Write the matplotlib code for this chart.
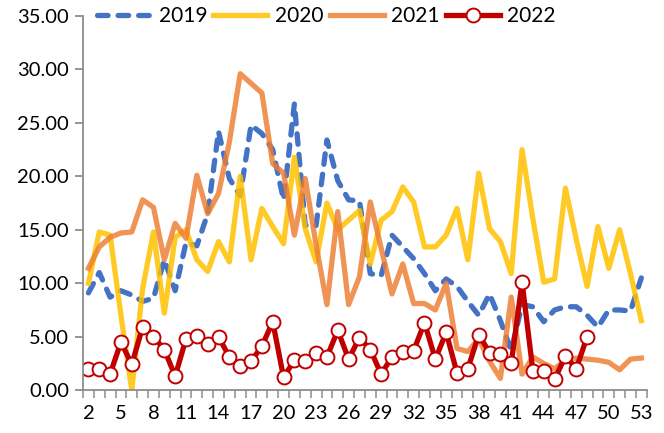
import numpy as np
import matplotlib
matplotlib.use('Agg')
import matplotlib.pyplot as plt
from matplotlib.ticker import MultipleLocator, FixedLocator, FormatStrFormatter

plt.rcParams['font.family'] = ['Lato', 'DejaVu Sans']

# weekly values, weeks 2..53
weeks = list(range(2, 54))
y2019 = [9.1, 11.0, 8.7, 9.3, 8.9, 8.3, 8.6, 12.2, 9.3, 13.8, 13.5, 16.5, 24.2,
         19.8, 18.2, 24.8, 24.0, 22.5, 17.8, 26.8, 15.4, 15.4, 23.4, 19.6, 17.8,
         17.7, 10.9, 10.7, 14.5, 13.4, 12.3, 10.9, 9.3, 10.4, 9.7, 8.3, 7.0, 9.0,
         6.5, 3.7, 8.0, 7.8, 6.4, 7.5, 7.8, 7.8, 7.0, 5.9, 7.5, 7.5, 7.4, 10.5]
y2020 = [10.0, 14.8, 14.5, 7.0, 0.0, 9.5, 14.8, 7.2, 14.3, 15.0, 12.2, 11.1, 13.9,
         12.0, 20.0, 12.2, 17.0, 15.3, 13.7, 21.8, 15.1, 12.0, 17.5, 15.0, 15.9,
         16.8, 11.8, 15.9, 16.7, 19.0, 17.6, 13.4, 13.4, 14.5, 17.0, 12.2, 20.3,
         15.1, 13.9, 10.9, 22.5, 16.0, 10.1, 10.4, 18.9, 14.1, 9.7, 15.3, 11.4,
         15.0, 10.9, 6.5]
y2021 = [11.4, 13.4, 14.3, 14.7, 14.8, 17.8, 17.1, 12.2, 15.6, 14.2, 20.1, 16.5,
         18.4, 23.2, 29.6, 28.7, 27.8, 21.2, 20.3, 14.5, 19.8, 13.6, 8.0, 16.7,
         8.0, 10.6, 17.6, 13.3, 9.0, 11.8, 8.1, 8.1, 7.5, 10.0, 3.9, 3.6, 4.8, 2.7,
         1.1, 8.7, 1.5, 3.1, 2.5, 2.0, 2.8, 3.0, 2.9, 2.8, 2.6, 1.9, 2.9, 3.0]
# 2022 only up to week 48
weeks_2022 = list(range(2, 49))
y2022 = [2.0, 2.0, 1.5, 4.5, 2.4, 5.9, 5.0, 3.8, 1.3, 4.8, 5.1, 4.3, 5.0, 3.1,
         2.3, 2.7, 4.1, 6.4, 1.2, 2.8, 2.7, 3.5, 3.1, 5.6, 2.9, 4.9, 3.8, 1.5,
         3.1, 3.6, 3.7, 6.3, 2.9, 5.4, 1.6, 2.0, 5.2, 3.5, 3.4, 2.5, 10.1, 1.8,
         1.8, 1.0, 3.2, 2.0, 5.0]
xlabels = list(range(2, 54, 3))

fig = plt.figure(figsize=(6.64, 4.33), dpi=100)
ax = fig.add_subplot(111)
fig.subplots_adjust(left=0.125, right=0.974, bottom=0.099, top=0.963)

lw = 3.8
ax.plot(weeks, y2019, color='#4472C4', lw=lw, linestyle=(0, (2.0, 1.9)),
        dash_capstyle='round', label='2019')
ax.plot(weeks, y2020, color='#FFC000', lw=lw, alpha=0.85, solid_joinstyle='round', label='2020')
ax.plot(weeks, y2021, color='#ED7D31', lw=lw, alpha=0.82, solid_joinstyle='round', label='2021')
ax.plot(weeks_2022, y2022, color='#C00000', lw=lw, marker='o', markersize=10,
        markerfacecolor='white', markeredgecolor='#C00000', markeredgewidth=1.4,
        label='2022')

ax.set_xlim(1.5, 53.5)
ax.set_ylim(0, 35)
ax.yaxis.set_major_locator(MultipleLocator(5))
ax.yaxis.set_major_formatter(FormatStrFormatter('%.2f'))
ax.xaxis.set_major_locator(FixedLocator(xlabels))
ax.xaxis.set_minor_locator(FixedLocator(np.arange(1.5, 54, 1)))

gray = '#8C8C8C'
for s in ['top', 'right']:
    ax.spines[s].set_visible(False)
for s in ['left', 'bottom']:
    ax.spines[s].set_color(gray)
    ax.spines[s].set_linewidth(1.3)
ax.tick_params(axis='y', direction='out', length=6, width=1.3, color=gray,
               labelsize=14.5, pad=4)
ax.tick_params(axis='x', which='major', length=0, labelsize=14.5, pad=11)
ax.tick_params(axis='x', which='minor', direction='out', length=6, width=1.1, color=gray)

ax.legend(loc='center left', bbox_to_anchor=(0.025, 1.0), ncol=4, frameon=False,
          fontsize=15, handlelength=2.6, handletextpad=0.35, columnspacing=0.3,
          borderaxespad=0, borderpad=0)

fig.savefig('out.png', dpi=100)
